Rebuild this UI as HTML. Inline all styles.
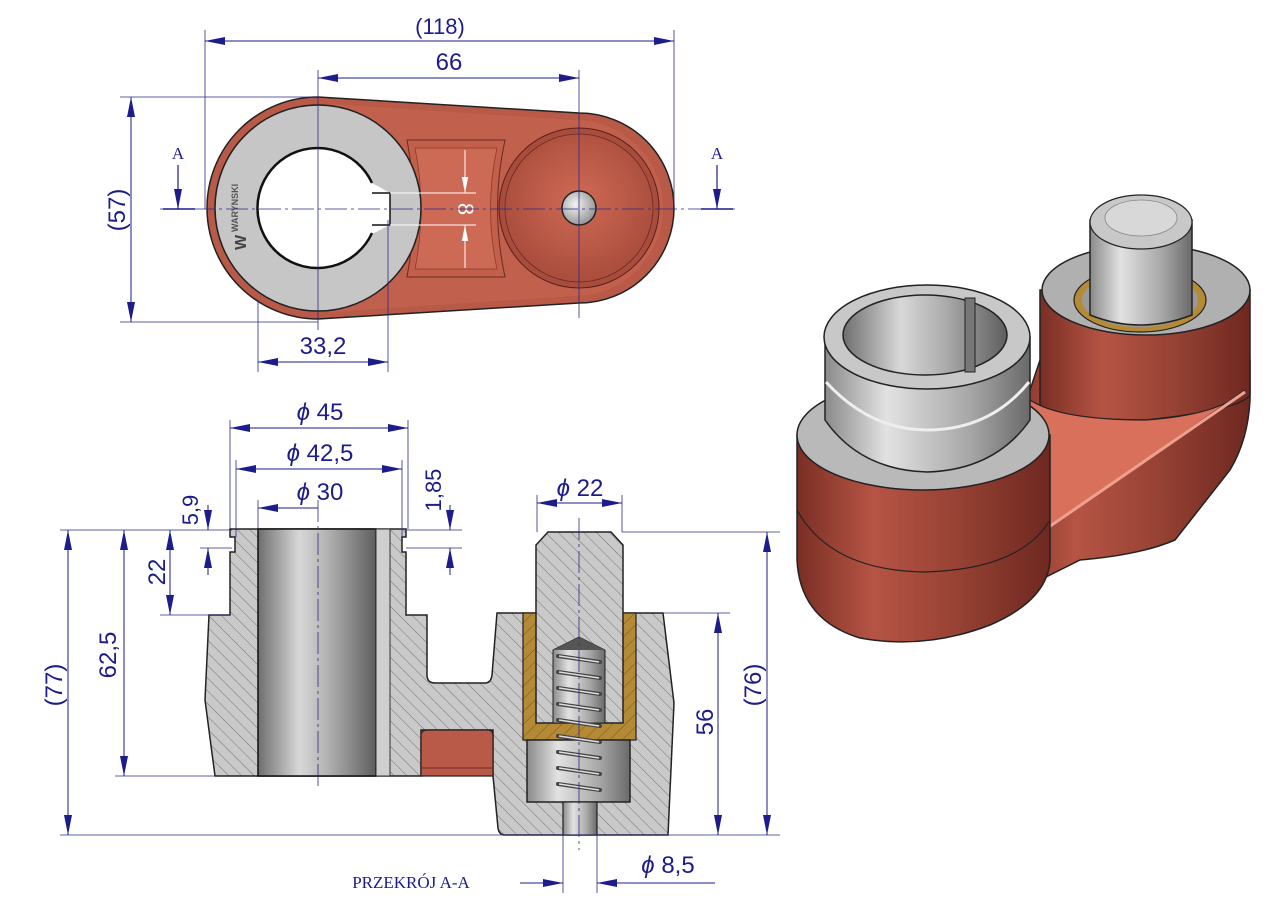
<!DOCTYPE html>
<html><head><meta charset="utf-8"><style>
html,body{margin:0;padding:0;background:#fff;}
svg{display:block;}
text{font-family:"Liberation Sans",sans-serif;fill:#1c1c8a;}
</style></head><body>
<svg width="1280" height="905" viewBox="0 0 1280 905" xmlns="http://www.w3.org/2000/svg">
<defs>
<pattern id="hat" width="9" height="9" patternUnits="userSpaceOnUse" patternTransform="rotate(-45)">
<rect width="9" height="9" fill="#c9c9c9"/><line x1="0" y1="0" x2="0" y2="9" stroke="#6a6a6a" stroke-width="0.9"/></pattern>
<pattern id="hatb" width="9" height="9" patternUnits="userSpaceOnUse" patternTransform="rotate(45)">
<rect width="9" height="9" fill="#b48a36"/><line x1="0" y1="0" x2="0" y2="9" stroke="#6d5318" stroke-width="0.9"/></pattern>
<linearGradient id="cyl" x1="0" x2="1"><stop offset="0" stop-color="#6e6e6e"/><stop offset="0.35" stop-color="#d8d8d8"/><stop offset="0.6" stop-color="#b0b0b0"/><stop offset="1" stop-color="#5e5e5e"/></linearGradient>
<linearGradient id="cyl2" x1="0" x2="1"><stop offset="0" stop-color="#8a8a8a"/><stop offset="0.3" stop-color="#e2e2e2"/><stop offset="0.7" stop-color="#a8a8a8"/><stop offset="1" stop-color="#6a6a6a"/></linearGradient>
<linearGradient id="red" x1="0" x2="1"><stop offset="0" stop-color="#7a2e24"/><stop offset="0.3" stop-color="#b65444"/><stop offset="0.6" stop-color="#9a4436"/><stop offset="1" stop-color="#6e2820"/></linearGradient>
<linearGradient id="redv" x1="0" y1="0" x2="0" y2="1"><stop offset="0" stop-color="#c8644e"/><stop offset="1" stop-color="#9a4434"/></linearGradient>
<radialGradient id="topred" cx="0.5" cy="0.45" r="0.6"><stop offset="0" stop-color="#cf6a55"/><stop offset="1" stop-color="#a64a3a"/></radialGradient>
<radialGradient id="pinr" cx="0.4" cy="0.4" r="0.7"><stop offset="0" stop-color="#f2f2f2"/><stop offset="1" stop-color="#8a8a8a"/></radialGradient>
<marker id="ar" viewBox="0 0 20 8" refX="20" refY="4" markerWidth="20" markerHeight="8" markerUnits="userSpaceOnUse" orient="auto-start-reverse"><path d="M0,0 L20,4 L0,8 Z" fill="#1c1c8a"/></marker>
<marker id="aw" viewBox="0 0 20 8" refX="20" refY="4" markerWidth="16" markerHeight="7" markerUnits="userSpaceOnUse" orient="auto-start-reverse"><path d="M0,0 L20,4 L0,8 Z" fill="#fff"/></marker>
</defs>

<!-- ================= TOP VIEW ================= -->
<path d="M318,97 L579,113 A95,95 0 0 1 579,303 L318,319 A111,111 0 0 1 318,97 Z" fill="#b85a47" stroke="#222" stroke-width="1.5"/>
<path d="M330,104 L575,120 A88,88 0 0 1 575,296 L330,312 Z" fill="#c4624e" opacity="0.7"/>
<!-- pocket -->
<path d="M407,140 L505,140 Q490,208 505,277 L407,277 Q420,208 407,140 Z" fill="#c2604c" stroke="#6a2a20" stroke-width="1"/>
<path d="M415,148 L497,148 Q484,208 497,269 L415,269 Q427,208 415,148 Z" fill="#cd6a55" stroke="#8a3a2e" stroke-width="0.8"/>
<!-- right boss -->
<circle cx="579" cy="208" r="80" fill="#a84c3c" stroke="#5a2018" stroke-width="1"/>
<circle cx="579" cy="208" r="74" fill="url(#topred)" stroke="#6a2a20" stroke-width="0.8"/>
<circle cx="579" cy="208" r="17" fill="url(#pinr)" stroke="#222" stroke-width="1.5"/>
<!-- gray washer -->
<circle cx="318" cy="208" r="103" fill="#c6c6c6" stroke="#222" stroke-width="1.5"/>
<path d="M318,148 A60,60 0 1 0 372,234 L390,225 L390,193 L372,183 A60,60 0 0 0 318,148 Z" fill="#fff"/>
<path d="M372,183 A60,60 0 1 0 372,233" fill="none" stroke="#111" stroke-width="2.5"/>
<path d="M372,193 L390,193 L390,225 L372,225" fill="#fff" stroke="#111" stroke-width="1.5"/>
<text x="0" y="0" transform="translate(238,232) rotate(-90)" font-size="9" style="fill:#555" font-weight="bold">WARYNSKI</text>
<text x="0" y="0" transform="translate(246,250) rotate(-90)" font-size="16" style="fill:#444" font-weight="bold">W</text>
<!-- "8" dim -->
<line x1="390" y1="193" x2="476" y2="193" stroke="#fff" stroke-width="1"/>
<line x1="390" y1="225" x2="476" y2="225" stroke="#fff" stroke-width="1"/>
<line x1="465" y1="150" x2="465" y2="193" stroke="#fff" stroke-width="1" marker-end="url(#aw)"/>
<line x1="465" y1="268" x2="465" y2="225" stroke="#fff" stroke-width="1" marker-end="url(#aw)"/>
<text transform="translate(458,209) rotate(90)" text-anchor="middle" font-size="22" style="fill:#fff">8</text>
<!-- center lines -->
<line x1="160" y1="209" x2="735" y2="209" stroke="#2a2a8a" stroke-width="0.8" stroke-dasharray="22,4,3,4"/>
<line x1="318" y1="70" x2="318" y2="330" stroke="#2a2a8a" stroke-width="0.8"/>
<line x1="579" y1="70" x2="579" y2="318" stroke="#2a2a8a" stroke-width="0.8"/>
<!-- dims top -->
<line x1="205" y1="30" x2="205" y2="209" stroke="#2a2a8a" stroke-width="0.8"/>
<line x1="674" y1="30" x2="674" y2="209" stroke="#2a2a8a" stroke-width="0.8"/>
<line x1="205" y1="41" x2="674" y2="41" stroke="#1c1c8a" stroke-width="1" marker-start="url(#ar)" marker-end="url(#ar)"/>
<text x="440" y="34" text-anchor="middle" font-size="22">(118)</text>
<line x1="318" y1="78" x2="579" y2="78" stroke="#1c1c8a" stroke-width="1" marker-start="url(#ar)" marker-end="url(#ar)"/>
<text x="449" y="70" text-anchor="middle" font-size="24">66</text>
<line x1="120" y1="97" x2="318" y2="97" stroke="#2a2a8a" stroke-width="0.8"/>
<line x1="120" y1="322" x2="318" y2="322" stroke="#2a2a8a" stroke-width="0.8"/>
<line x1="131" y1="97" x2="131" y2="322" stroke="#1c1c8a" stroke-width="1" marker-start="url(#ar)" marker-end="url(#ar)"/>
<text transform="translate(125,210) rotate(-90)" text-anchor="middle" font-size="24">(57)</text>
<line x1="258" y1="300" x2="258" y2="372" stroke="#2a2a8a" stroke-width="0.8"/>
<line x1="388" y1="220" x2="388" y2="372" stroke="#2a2a8a" stroke-width="0.8"/>
<line x1="258" y1="362" x2="388" y2="362" stroke="#1c1c8a" stroke-width="1" marker-start="url(#ar)" marker-end="url(#ar)"/>
<text x="323" y="354" text-anchor="middle" font-size="24">33,2</text>
<!-- A marks -->
<text x="178" y="159" text-anchor="middle" font-size="17" style="font-family:'Liberation Serif',serif">A</text>
<line x1="178" y1="165" x2="178" y2="209" stroke="#1c1c8a" stroke-width="1.2" marker-end="url(#ar)"/>
<line x1="163" y1="209" x2="195" y2="209" stroke="#1c1c8a" stroke-width="1.5"/>
<text x="717" y="159" text-anchor="middle" font-size="17" style="font-family:'Liberation Serif',serif">A</text>
<line x1="717" y1="165" x2="717" y2="209" stroke="#1c1c8a" stroke-width="1.2" marker-end="url(#ar)"/>
<line x1="701" y1="209" x2="733" y2="209" stroke="#1c1c8a" stroke-width="1.5"/>

<!-- ================= SECTION ================= -->
<path d="M230,529 L406,529 L406,537 L402,537 L402,552 L406,552 L406,615 L427,615 L427,675 Q427,683 435,683 L485,683 Q491,683 492,675 L497,613 L663,613 L674,703 L668,835 L505,835 Q499,835 498,828 L493,776 L493,730 L421,730 L421,776 L215,776 L205,700 L209,615 L230,615 L230,552 L235,552 L235,537 L230,537 Z" fill="url(#hat)" stroke="#222" stroke-width="1.5"/>
<rect x="258" y="529" width="118" height="247" fill="url(#cyl)" stroke="#111" stroke-width="1.5"/>
<rect x="376" y="529" width="14" height="247" fill="#cfcfcf" stroke="#333" stroke-width="1"/>
<path d="M421,735 Q421,730 428,730 L488,730 Q493,730 493,736 L493,776 L421,776 Z" fill="#b85a47" stroke="#222" stroke-width="1.2"/>
<line x1="421" y1="768" x2="493" y2="768" stroke="#6a2a20" stroke-width="1"/>
<!-- right part internals -->
<rect x="523" y="613" width="113" height="127" fill="url(#hatb)" stroke="#222" stroke-width="1.2"/>
<path d="M548,532 L611,532 L623,545 L623,723 L536,723 L536,545 Z" fill="url(#hat)" stroke="#222" stroke-width="1.5"/>
<path d="M553,650 L579,637 L605,650 L605,723 L553,723 Z" fill="url(#cyl2)" stroke="#222" stroke-width="1"/>
<path d="M553,650 L579,637 L605,650 Z" fill="#555"/>
<rect x="527" y="740" width="103" height="62" fill="url(#cyl2)" stroke="#222" stroke-width="1.5"/>
<rect x="563" y="802" width="34" height="33" fill="url(#cyl2)" stroke="#222" stroke-width="1.2"/>
<g stroke="#444" stroke-width="4" stroke-linecap="round" fill="none">
<line x1="558" y1="656" x2="600" y2="662"/><line x1="558" y1="672" x2="600" y2="678"/><line x1="558" y1="688" x2="600" y2="694"/><line x1="558" y1="704" x2="600" y2="710"/><line x1="558" y1="720" x2="600" y2="726"/><line x1="558" y1="736" x2="600" y2="742"/><line x1="558" y1="752" x2="600" y2="758"/><line x1="558" y1="768" x2="600" y2="774"/><line x1="558" y1="784" x2="600" y2="790"/>
</g>
<g stroke="#ddd" stroke-width="1.5" fill="none">
<line x1="559" y1="656" x2="599" y2="662"/><line x1="559" y1="672" x2="599" y2="678"/><line x1="559" y1="688" x2="599" y2="694"/><line x1="559" y1="704" x2="599" y2="710"/><line x1="559" y1="720" x2="599" y2="726"/><line x1="559" y1="736" x2="599" y2="742"/><line x1="559" y1="752" x2="599" y2="758"/><line x1="559" y1="768" x2="599" y2="774"/><line x1="559" y1="784" x2="599" y2="790"/>
</g>
<line x1="318" y1="500" x2="318" y2="790" stroke="#2a2a8a" stroke-width="0.8" stroke-dasharray="22,4,3,4"/>
<line x1="579" y1="518" x2="579" y2="850" stroke="#2a2a8a" stroke-width="0.8" stroke-dasharray="22,4,3,4"/>
<!-- extension lines -->
<g stroke="#2a2a8a" stroke-width="0.8">
<line x1="60" y1="530" x2="232" y2="530"/>
<line x1="115" y1="776" x2="214" y2="776"/>
<line x1="160" y1="615" x2="230" y2="615"/>
<line x1="200" y1="548" x2="232" y2="548"/>
<line x1="60" y1="835" x2="780" y2="835"/>
<line x1="622" y1="532" x2="780" y2="532"/>
<line x1="663" y1="613" x2="730" y2="613"/>
<line x1="406" y1="530" x2="462" y2="530"/>
<line x1="406" y1="548" x2="462" y2="548"/>
<line x1="230" y1="420" x2="230" y2="529"/>
<line x1="408" y1="420" x2="408" y2="529"/>
<line x1="236" y1="460" x2="236" y2="537"/>
<line x1="402" y1="460" x2="402" y2="537"/>
<line x1="258" y1="500" x2="258" y2="529"/>
<line x1="537" y1="495" x2="537" y2="532"/>
<line x1="622" y1="495" x2="622" y2="532"/>
<line x1="563" y1="835" x2="563" y2="893"/>
<line x1="597" y1="835" x2="597" y2="893"/>
</g>
<g stroke="#1c1c8a" stroke-width="1" fill="none">
<line x1="230" y1="428" x2="408" y2="428" marker-start="url(#ar)" marker-end="url(#ar)"/>
<line x1="236" y1="469" x2="402" y2="469" marker-start="url(#ar)" marker-end="url(#ar)"/>
<line x1="318" y1="508" x2="258" y2="508" marker-end="url(#ar)"/>
<line x1="208" y1="505" x2="208" y2="530" marker-end="url(#ar)"/>
<line x1="208" y1="575" x2="208" y2="548" marker-end="url(#ar)"/>
<line x1="170" y1="530" x2="170" y2="615" marker-start="url(#ar)" marker-end="url(#ar)"/>
<line x1="124" y1="530" x2="124" y2="776" marker-start="url(#ar)" marker-end="url(#ar)"/>
<line x1="68" y1="530" x2="68" y2="835" marker-start="url(#ar)" marker-end="url(#ar)"/>
<line x1="450" y1="505" x2="450" y2="530" marker-end="url(#ar)"/>
<line x1="450" y1="575" x2="450" y2="548" marker-end="url(#ar)"/>
<line x1="537" y1="503" x2="622" y2="503" marker-start="url(#ar)" marker-end="url(#ar)"/>
<line x1="718" y1="613" x2="718" y2="835" marker-start="url(#ar)" marker-end="url(#ar)"/>
<line x1="767" y1="532" x2="767" y2="835" marker-start="url(#ar)" marker-end="url(#ar)"/>
<line x1="520" y1="883" x2="563" y2="883" marker-end="url(#ar)"/>
<line x1="715" y1="883" x2="597" y2="883" marker-end="url(#ar)"/>
</g>
<text x="320" y="420" text-anchor="middle" font-size="24"><tspan font-style="italic">ϕ</tspan>  45</text>
<text x="320" y="461" text-anchor="middle" font-size="24"><tspan font-style="italic">ϕ</tspan>  42,5</text>
<text x="320" y="500" text-anchor="middle" font-size="24"><tspan font-style="italic">ϕ</tspan>  30</text>
<text x="580" y="496" text-anchor="middle" font-size="24"><tspan font-style="italic">ϕ</tspan>  22</text>
<text x="668" y="873" text-anchor="middle" font-size="24"><tspan font-style="italic">ϕ</tspan>  8,5</text>
<text transform="translate(198,510) rotate(-90)" text-anchor="middle" font-size="22">5,9</text>
<text transform="translate(441,490) rotate(-90)" text-anchor="middle" font-size="22">1,85</text>
<text transform="translate(165,572) rotate(-90)" text-anchor="middle" font-size="24">22</text>
<text transform="translate(116,655) rotate(-90)" text-anchor="middle" font-size="24">62,5</text>
<text transform="translate(62,685) rotate(-90)" text-anchor="middle" font-size="24">(77)</text>
<text transform="translate(713,722) rotate(-90)" text-anchor="middle" font-size="24">56</text>
<text transform="translate(761,685) rotate(-90)" text-anchor="middle" font-size="24">(76)</text>
<text x="411" y="888" text-anchor="middle" font-size="17" style="font-family:'Liberation Serif',serif">PRZEKRÓJ A-A</text>

<!-- ================= 3D VIEW ================= -->
<!-- right lower body / arm -->
<path d="M1040,360 L1250,360 L1250,400 Q1248,440 1230,470 L1175,540 Q1140,555 1080,560 L1000,600 L1000,480 Z" fill="url(#red)" stroke="#222" stroke-width="1.5"/>
<path d="M1040,290 L1040,405 Q1060,420 1146,420 Q1240,410 1250,395 L1250,290 Z" fill="url(#red)" stroke="#222" stroke-width="1.5"/>
<ellipse cx="1146" cy="290" rx="104" ry="45" fill="#b0b0b0" stroke="#222" stroke-width="1.5"/>
<ellipse cx="1140" cy="300" rx="66" ry="32" fill="#b48a36" stroke="#222" stroke-width="1.2"/>
<ellipse cx="1140" cy="300" rx="58" ry="27" fill="#999"/>
<!-- arm top -->
<path d="M1030,400 Q1060,420 1146,420 Q1220,415 1245,390 L1025,545 Q1020,520 1020,470 Z" fill="#d8705c" stroke="#222" stroke-width="1.2"/>
<line x1="1245" y1="392" x2="1030" y2="540" stroke="#f0a090" stroke-width="3"/>
<!-- pin -->
<path d="M1090,220 L1090,315 Q1140,335 1192,315 L1192,220 Z" fill="url(#cyl2)" stroke="#222" stroke-width="1.5"/>
<ellipse cx="1141" cy="222" rx="51" ry="27" fill="#c8c8c8" stroke="#222" stroke-width="1.2"/>
<ellipse cx="1141" cy="218" rx="36" ry="18" fill="#d8d8d8" stroke="#888" stroke-width="0.8"/>
<!-- left cylinder -->
<path d="M797,435 L797,560 Q800,620 860,638 Q925,650 990,625 Q1048,600 1050,560 L1050,435 Z" fill="url(#red)" stroke="#222" stroke-width="1.5"/>
<path d="M797,510 Q830,570 923,572 Q1020,570 1050,520" fill="none" stroke="#222" stroke-width="1.2"/>
<ellipse cx="923" cy="435" rx="126" ry="55" fill="#b9b9b9" stroke="#222" stroke-width="1.5"/>
<!-- sleeve -->
<path d="M825,337 L825,420 Q860,470 927,472 Q995,470 1030,420 L1030,337 Z" fill="url(#cyl2)" stroke="#222" stroke-width="1.5"/>
<ellipse cx="927" cy="337" rx="103" ry="52" fill="#c8c8c8" stroke="#222" stroke-width="1.5"/>
<ellipse cx="925" cy="335" rx="82" ry="40" fill="url(#cyl)" stroke="#222" stroke-width="1.5"/>
<path d="M965,298 L975,298 L975,372 L965,372 Z" fill="#777" stroke="#222" stroke-width="1"/>
<path d="M826,382 Q870,430 927,430 Q990,430 1029,382" fill="none" stroke="#eee" stroke-width="3"/>
</svg>
</body></html>
